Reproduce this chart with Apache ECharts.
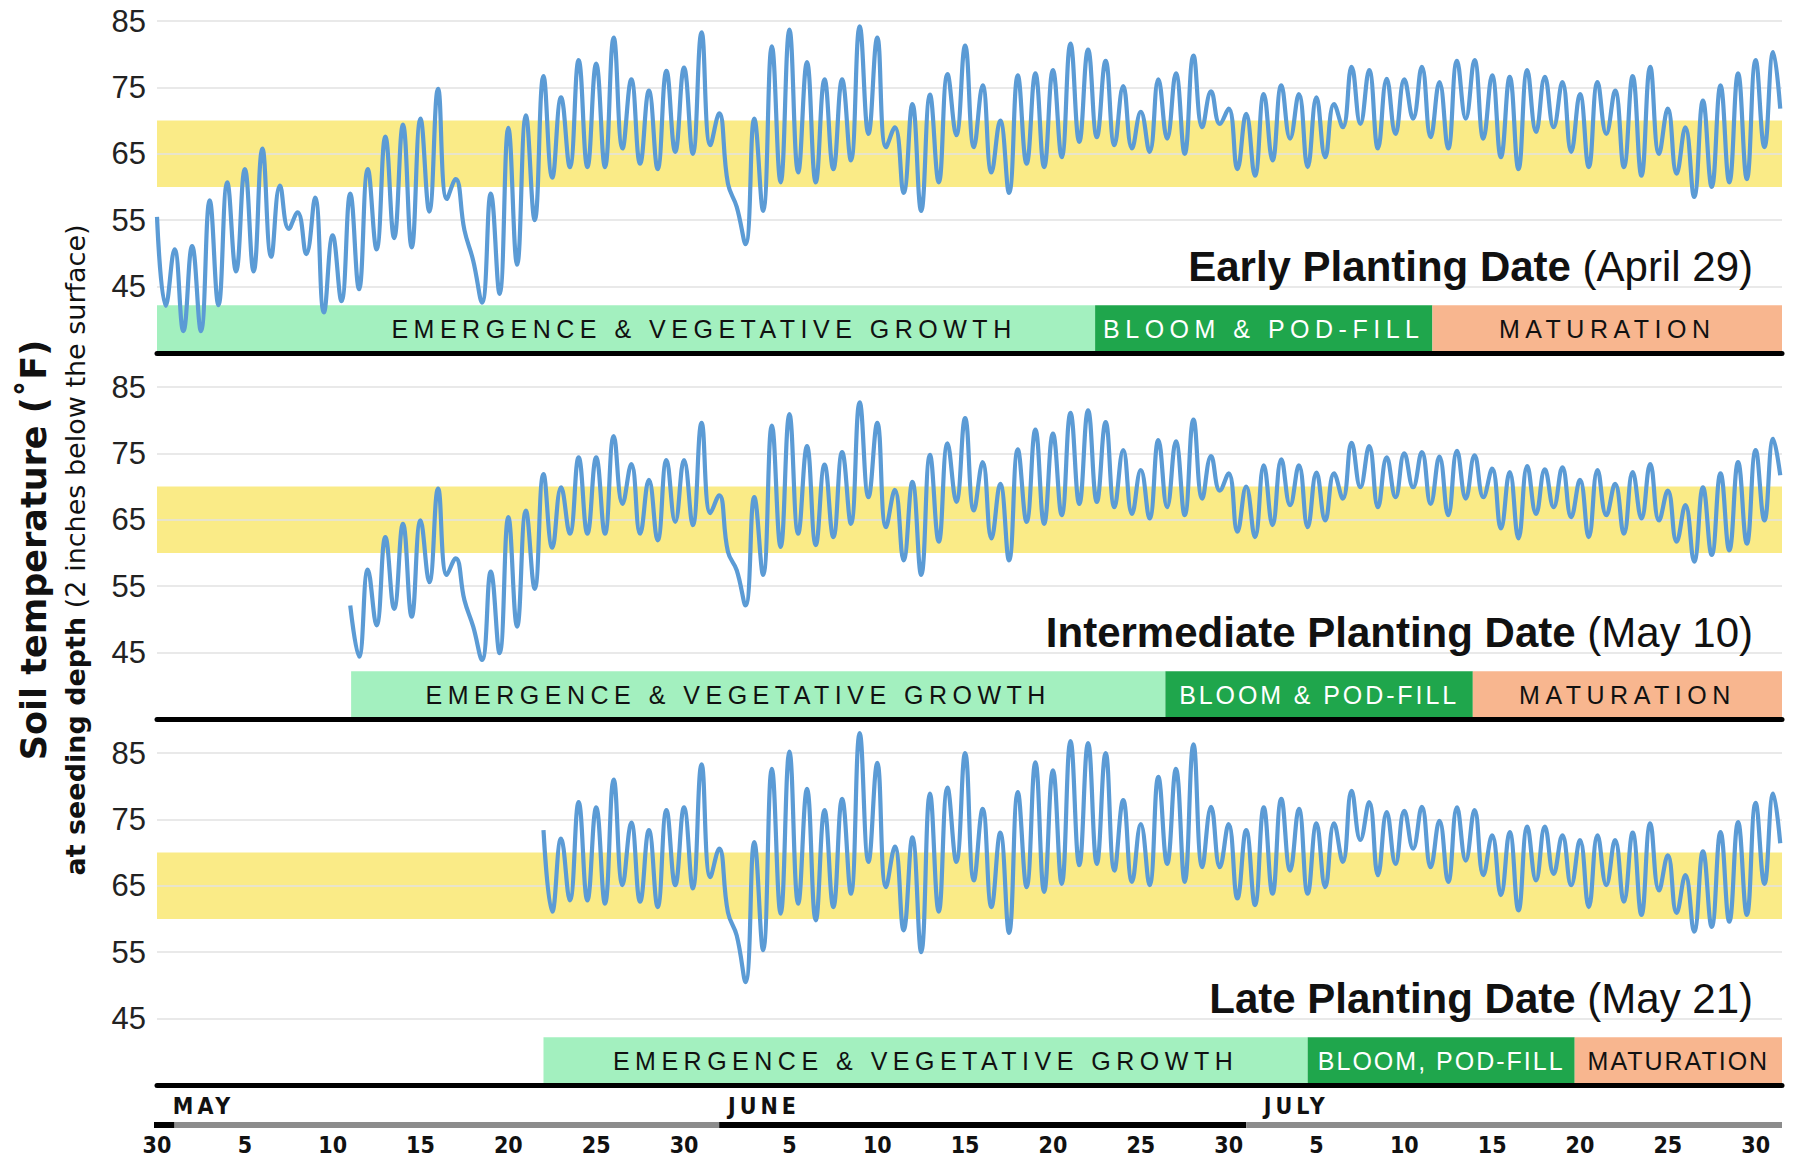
<!DOCTYPE html>
<html>
<head>
<meta charset="utf-8">
<title>Soil temperature at seeding depth</title>
<script src="https://cdn.jsdelivr.net/npm/echarts@6/dist/echarts.min.js"></script>
<style>
  html, body { margin: 0; padding: 0; background: #ffffff; }
  #chart { width: 1794px; height: 1156px; }
  /* tracking for the stage labels and month names (fonts tagged by family) */
  svg text[style*="xsp55"] { letter-spacing: 5.5px; }
  svg text[style*="xsp29"] { letter-spacing: 2.9px; }
  svg text[style*="xsp20"] { letter-spacing: 2px; }
  svg text[style*="xsp40"] { letter-spacing: 4px; }
</style>
</head>
<body>
<div id="chart"></div>
<script>
// Days are counted from April 30 (day 0). Daily highs sit on whole days,
// overnight lows half a day later.

// ---- Early planting (April 29) ----
const earlyStart = 0;
const earlyHighs = [
  55.5, 50.6, 51.1, 58.0, 60.7, 62.7, 65.8, 60.2, 56.2, 58.4,
  52.7, 59.0, 62.7, 67.6, 69.4, 70.3, 74.8, 61.2, 48.9, 59.0,
  68.9, 70.8, 76.7, 73.5, 79.1, 78.6, 82.5, 76.2, 74.5, 77.5,
  78.0, 83.3, 71.1, 57.0, 70.3, 81.2, 83.7, 78.8, 76.2, 76.2,
  84.2, 82.5, 69.0, 72.5, 73.9, 77.0, 81.3, 75.3, 70.0, 76.8,
  77.1, 77.6, 81.6, 80.7, 79.0, 75.2, 71.3, 76.2, 77.1, 79.8,
  74.4, 71.8, 71.0, 74.0, 75.3, 74.0, 73.5, 72.5, 78.1, 77.6,
  76.3, 76.2, 78.1, 75.8, 79.0, 79.1, 76.8, 76.6, 77.6, 76.6,
  75.8, 74.0, 75.8, 74.5, 76.7, 78.1, 71.8, 69.0, 73.0, 75.3,
  77.1, 79.1, 80.3
];
const earlyLows = [
  42.1, 38.3, 38.3, 42.2, 47.3, 47.3, 49.5, 53.7, 49.9, 41.1,
  42.8, 44.6, 50.6, 52.3, 50.9, 56.3, 58.2, 53.5, 42.6, 43.9,
  48.3, 55.0, 61.4, 63.0, 63.0, 63.0, 65.8, 63.5, 62.7, 65.3,
  65.0, 66.3, 60.5, 51.4, 56.4, 60.7, 62.2, 60.7, 62.7, 64.0,
  68.0, 66.0, 59.1, 56.4, 60.7, 67.8, 66.0, 62.2, 59.1, 63.5,
  63.0, 64.5, 66.8, 67.5, 66.3, 65.8, 65.3, 67.3, 65.0, 69.0,
  69.5, 62.7, 61.7, 64.0, 67.3, 63.0, 64.5, 69.0, 69.5, 65.8,
  68.0, 70.3, 67.5, 65.8, 70.3, 67.3, 64.5, 62.7, 68.3, 69.0,
  65.3, 63.0, 68.0, 63.0, 61.7, 65.0, 62.0, 58.5, 60.0, 60.7,
  61.2, 66.0
];
const earlyLast = 71.8;

// ---- Intermediate planting (May 10) ----
const interStart = 11;
const interHighs = [
  52.1, 57.5, 62.4, 64.4, 64.9, 69.7, 59.2, 48.9, 57.2,
  65.4, 66.4, 71.9, 69.9, 74.4, 74.4, 77.6, 73.4, 71.0, 74.0,
  74.0, 79.6, 68.7, 57.4, 68.4, 79.2, 80.9, 76.1, 73.3, 75.2,
  82.7, 79.6, 69.5, 70.7, 74.8, 76.5, 80.3, 73.7, 70.4, 75.6,
  78.6, 78.0, 81.1, 81.5, 79.7, 75.5, 72.5, 77.0, 76.8, 80.1,
  74.6, 72.0, 70.0, 73.2, 74.1, 73.2, 72.1, 72.0, 76.6, 76.1,
  74.4, 75.0, 75.2, 74.5, 75.4, 74.7, 72.7, 72.2, 73.1, 72.6,
  72.9, 71.0, 72.5, 70.4, 72.2, 73.4, 69.4, 67.2, 69.9, 72.0,
  73.7, 75.5, 77.2
];
const interLows = [
  44.4, 49.1, 51.6, 50.4, 55.6, 56.7, 52.9, 43.9, 44.9,
  48.9, 54.6, 60.8, 62.9, 62.9, 62.9, 67.4, 62.9, 61.9, 64.7,
  64.2, 66.0, 60.2, 52.1, 56.7, 60.9, 62.9, 61.2, 62.4, 64.4,
  68.4, 63.9, 58.9, 56.7, 61.7, 67.7, 66.4, 62.2, 58.9, 64.7,
  64.4, 65.7, 67.4, 67.7, 66.9, 65.9, 65.2, 66.9, 65.7, 68.2,
  69.4, 63.2, 62.4, 64.2, 67.2, 63.9, 64.9, 68.2, 69.9, 66.9,
  68.4, 69.9, 67.4, 65.7, 68.2, 68.4, 63.7, 62.2, 65.9, 66.9,
  65.4, 62.4, 65.7, 62.9, 65.2, 64.9, 61.7, 58.7, 59.7, 60.4,
  61.4, 64.9
];
const interLast = 71.7;

// ---- Late planting (May 21) ----
const lateStart = 22;
const lateHighs = [
  73.4, 72.1, 77.6, 76.8, 81.0, 74.5, 73.4, 76.4,
  76.8, 83.3, 70.6, 57.5, 71.6, 82.6, 85.2, 79.6, 76.4, 78.1,
  88.0, 83.5, 70.9, 72.3, 78.9, 79.8, 85.0, 76.6, 73.0, 79.1,
  83.6, 82.4, 86.8, 86.5, 85.0, 77.9, 74.3, 81.4, 82.6, 86.3,
  76.9, 74.3, 73.4, 76.8, 78.1, 76.6, 74.4, 74.4, 79.3, 77.6,
  76.1, 76.3, 76.9, 74.8, 76.8, 76.4, 72.6, 73.1, 73.9, 73.9,
  72.6, 71.9, 72.6, 71.9, 73.0, 74.4, 69.6, 66.6, 70.2, 73.1,
  74.6, 77.5, 78.9
];
const lateLows = [
  61.1, 62.8, 62.8, 62.3, 65.1, 62.6, 61.8, 65.1,
  64.6, 66.3, 61.0, 50.5, 55.3, 60.8, 62.3, 59.8, 61.8, 63.8,
  68.6, 64.8, 58.3, 55.0, 61.1, 68.6, 65.8, 61.8, 57.9, 64.8,
  64.1, 65.3, 68.1, 68.3, 67.3, 65.6, 65.1, 68.3, 65.6, 67.8,
  67.8, 63.1, 62.1, 63.8, 67.3, 63.8, 64.8, 68.6, 71.9, 66.6,
  68.3, 70.6, 67.8, 65.6, 68.8, 66.6, 63.6, 61.3, 65.8, 66.8,
  65.1, 61.8, 65.1, 62.6, 60.6, 64.3, 60.9, 58.1, 58.8, 59.6,
  60.6, 65.3
];
const lateLast = 71.4;

// ---- growth stages (first day of each stage) ----
const earlyStageDays = [0, 53.4, 72.6];
const interStageDays = [11.05, 57.4, 74.9];
const lateStageDays = [22, 65.5, 80.7];
const stageNames = ['EMERGENCE & VEGETATIVE GROWTH', 'BLOOM & POD-FILL', 'MATURATION'];
const lateStageNames = ['EMERGENCE & VEGETATIVE GROWTH', 'BLOOM, POD-FILL', 'MATURATION'];

// ---- panel titles ----
const panelTitles = ['Early Planting Date', 'Intermediate Planting Date', 'Late Planting Date'];
const plantingDates = ['(April 29)', '(May 10)', '(May 21)'];

// ---- optimal band, y ticks ----
const optimalBand = [60, 70];
const yTicks = [45, 55, 65, 75, 85];

// ---- calendar axis ----
const dayTicks = [0, 5, 10, 15, 20, 25, 30, 36, 41, 46, 51, 56, 61, 66, 71, 76, 81, 86, 91];
const dayTickLabels = ['30', '5', '10', '15', '20', '25', '30', '5', '10', '15', '20', '25', '30',
                       '5', '10', '15', '20', '25', '30'];
const monthEdges = [-0.7, 1, 32, 62, 92.5];
const monthLabelDays = [0.9, 32.5, 63];
const monthNames = ['MAY', 'JUNE', 'JULY'];

const END_DAY = 92.5;
const LAST_DAY = 92.4;

// ---------------------------------------------------------------
const BLUE = '#5b9bd5';
const STAGE_FILL = ['#a3f0bf', '#1fa64c', '#f8b68f'];
const STAGE_TEXT = ['#111111', '#ffffff', '#111111'];
const SANS = "'Liberation Sans', Arial, Helvetica, sans-serif";
const NARROW = "'DejaVu Sans Condensed', 'Liberation Sans', sans-serif";

function buildTrace(start, highs, lows, last) {
  const pts = [];
  for (let i = 0; i < highs.length; i++) {
    pts.push([start + i, highs[i]]);
    if (i < lows.length) pts.push([start + i + 0.5, lows[i]]);
  }
  pts.push([LAST_DAY, last]);
  return pts;
}

const panels = [
  { top: 21, start: earlyStart, highs: earlyHighs, lows: earlyLows, last: earlyLast,
    stages: earlyStageDays, names: stageNames,
    tracking: ['xsp55', 'xsp55', 'xsp55'], offsets: [[78, 0], [0, 0], [0, 0]] },
  { top: 387, start: interStart, highs: interHighs, lows: interLows, last: interLast,
    stages: interStageDays, names: stageNames,
    tracking: ['xsp55', 'xsp29', 'xsp55'], offsets: [[-20, 0], [0, 0], [0, 0]] },
  { top: 753, start: lateStart, highs: lateHighs, lows: lateLows, last: lateLast,
    stages: lateStageDays, names: lateStageNames,
    tracking: ['xsp55', 'xsp20', 'xsp20'], offsets: [[0, 0], [0, 0], [0, 0]] }
];

const PANEL_H = 332;
const grid = [], xAxis = [], yAxis = [], series = [];

panels.forEach((p, i) => {
  grid.push({ left: 157, right: 12, top: p.top, height: PANEL_H, containLabel: false });
  xAxis.push({
    type: 'value', gridIndex: i, min: 0, max: END_DAY, z: 4,
    axisLine: { show: true, onZero: false, lineStyle: { color: '#000', width: 5 } },
    axisTick: { show: false }, axisLabel: { show: false }, splitLine: { show: false }
  });
  yAxis.push({
    type: 'value', gridIndex: i, min: 35, max: 85, interval: 10, z: 3,
    axisLine: { show: false }, axisTick: { show: false },
    axisLabel: {
      margin: 11, color: '#222', fontSize: 31, fontFamily: SANS,
      formatter: v => (yTicks.indexOf(v) >= 0 ? String(v) : '')
    },
    splitLine: { show: true, lineStyle: { color: '#e2e2e2', width: 1.5 } }
  });

  // optimal band and growth-stage bar
  const areas = [[{ yAxis: optimalBand[0], itemStyle: { color: '#faeb87' } }, { yAxis: optimalBand[1] }]];
  p.stages.forEach((d, k) => {
    const end = k + 1 < p.stages.length ? p.stages[k + 1] : END_DAY;
    areas.push([
      {
        name: p.names[k], xAxis: d, yAxis: 35,
        itemStyle: { color: STAGE_FILL[k] },
        label: {
          show: true, position: 'inside', color: STAGE_TEXT[k], fontSize: 25,
          fontFamily: p.tracking[k] + ', ' + SANS, offset: p.offsets[k]
        }
      },
      { xAxis: end, yAxis: 42.2 }
    ]);
  });
  series.push({
    type: 'line', xAxisIndex: i, yAxisIndex: i, data: [], z: 1, silent: true,
    markArea: { silent: true, data: areas }
  });

  series.push({
    type: 'line', xAxisIndex: i, yAxisIndex: i, z: 5,
    data: buildTrace(p.start, p.highs, p.lows, p.last),
    showSymbol: false, symbol: 'none', smooth: 0.45, clip: false,
    lineStyle: { color: BLUE, width: 4.2, join: 'round' }
  });
});

// calendar strip
grid.push({ left: 157, right: 12, top: 1120, height: 14 });
xAxis.push({
  type: 'value', gridIndex: 3, min: 0, max: END_DAY, position: 'bottom',
  axisLine: { show: false }, axisTick: { show: false }, splitLine: { show: false },
  axisLabel: {
    customValues: dayTicks, margin: 3, color: '#111', fontSize: 23, fontWeight: 'bold',
    fontFamily: NARROW,
    formatter: v => dayTickLabels[dayTicks.indexOf(v)]
  }
});
xAxis.push({
  type: 'value', gridIndex: 3, min: 0, max: END_DAY, position: 'top',
  axisLine: { show: false }, axisTick: { show: false }, splitLine: { show: false },
  axisLabel: {
    customValues: monthLabelDays, margin: 3, align: 'left', color: '#111', fontSize: 23,
    fontWeight: 'bold', fontFamily: 'xsp40, ' + NARROW,
    formatter: v => monthNames[monthLabelDays.indexOf(v)]
  }
});
yAxis.push({ type: 'value', gridIndex: 3, min: -1, max: 1, show: false });
for (let m = 0; m < monthEdges.length - 1; m++) {
  series.push({
    type: 'line', xAxisIndex: 3, yAxisIndex: 3, clip: false, silent: true,
    symbol: 'none', data: [[monthEdges[m], 0], [monthEdges[m + 1], 0]],
    lineStyle: { color: m % 2 === 0 ? '#000000' : '#8c8c8c', width: 6, cap: 'butt' }
  });
}

// panel titles and the rotated axis title
const graphic = panels.map((p, i) => ({
  type: 'text', x: 1753, y: p.top + 245, z: 10,
  style: {
    text: '{b|' + panelTitles[i] + '}{r| ' + plantingDates[i] + '}',
    textAlign: 'right', textVerticalAlign: 'middle',
    rich: {
      b: { fontSize: 42, fontWeight: 'bold', fontFamily: SANS, fill: '#111' },
      r: { fontSize: 42, fontFamily: SANS, fill: '#111' }
    }
  }
}));
graphic.push({
  type: 'text', x: 34, y: 550, rotation: Math.PI / 2, z: 10,
  style: {
    text: 'Soil temperature (\u02DAF)', textAlign: 'center', textVerticalAlign: 'middle',
    fontSize: 35, fontWeight: 'bold', fontFamily: "'DejaVu Sans', sans-serif", fill: '#111'
  }
});
graphic.push({
  type: 'text', x: 75, y: 550, rotation: Math.PI / 2, z: 10,
  style: {
    text: '{b|at seeding depth}{r| (2 inches below the surface)}',
    textAlign: 'center', textVerticalAlign: 'middle',
    rich: {
      b: { fontSize: 27, fontWeight: 'bold', fontFamily: "'DejaVu Sans', sans-serif", fill: '#111' },
      r: { fontSize: 27, fontFamily: "'DejaVu Sans', sans-serif", fill: '#111' }
    }
  }
});

const chart = echarts.init(document.getElementById('chart'), null, { renderer: 'svg' });
chart.setOption({
  animation: false,
  backgroundColor: '#ffffff',
  textStyle: { fontFamily: SANS },
  grid, xAxis, yAxis, series, graphic
});
</script>
</body>
</html>
